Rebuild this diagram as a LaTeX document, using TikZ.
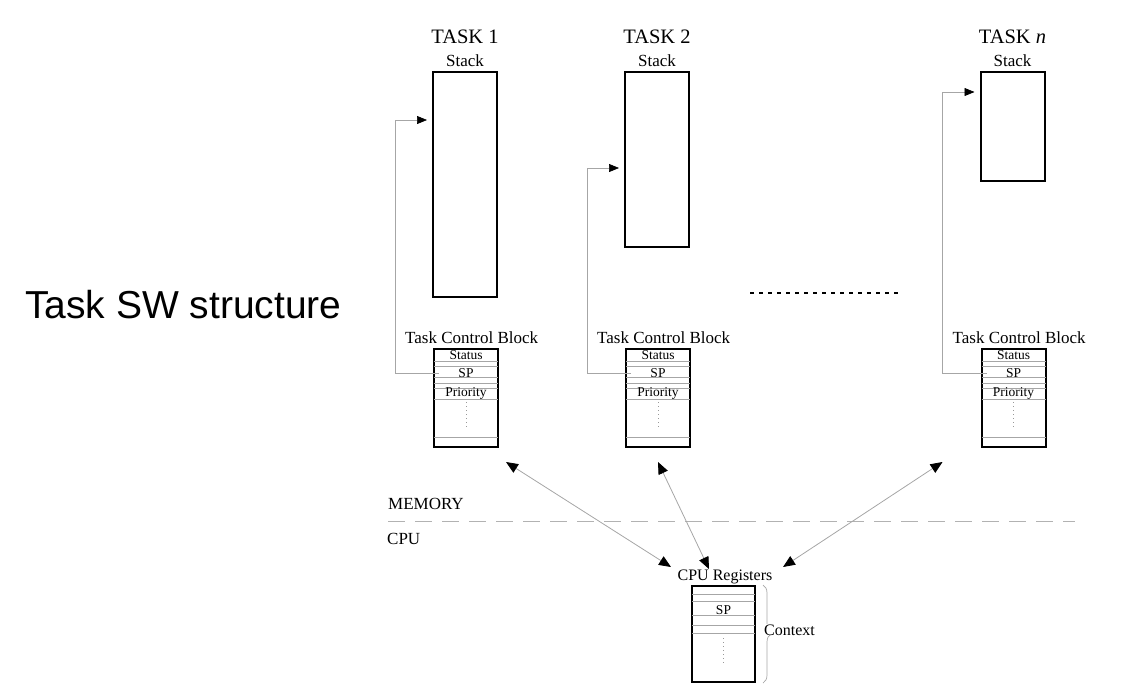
\documentclass[tikz,border=0pt]{standalone}
\usepackage{fontspec}
\setmainfont{Liberation Serif}
\newfontfamily\headfont{Liberation Sans}
\usetikzlibrary{positioning}
\usetikzlibrary{calc}
\usetikzlibrary{arrows.meta}
\usetikzlibrary{decorations.pathreplacing}

\tikzset{
  memblock/.style={draw, line width=2pt, minimum width=64pt, inner sep=0pt},
  rowline/.style={gray!70, line width=0.6pt},
  fielddots/.style={gray!80, line width=0.6pt, dash pattern=on 1pt off 3pt},
  fieldtext/.style={font=\fontsize{13.5}{14}\selectfont, inner sep=0pt},
  labeltext/.style={font=\fontsize{17}{18}\selectfont, inner sep=0pt, anchor=base},
  ptrline/.style={gray!70, line width=0.7pt, -{Triangle[length=10pt,width=8pt,color=black]}},
  linkline/.style={gray!70, line width=0.8pt,
    {Triangle[length=12pt,width=10pt,color=black]}-{Triangle[length=12pt,width=10pt,color=black]}},
}

\begin{document}
\begin{tikzpicture}[x=1pt,y=-1pt]
\useasboundingbox (0,0) rectangle (1136,689);

\node[anchor=base west, inner sep=0pt, font=\headfont\fontsize{39}{40}\selectfont] (title) at (25,318) {Task SW structure};

% one column per task: stack, control block, pointer
\foreach \t/\name/\cx/\h/\py in {1/TASK 1/465/225/49, 2/TASK 2/657/175/97, n/TASK \textit{n}/1012.5/109/21} {
  \node[labeltext, font=\fontsize{20.5}{21}\selectfont] (task\t) at (\cx,43) {\name};
  \node[labeltext] (stacklabel\t) at (\cx,66) {Stack};
  \node[memblock, minimum height=\h pt, anchor=north] (stack\t) at (\cx,71) {};

  \node[memblock, minimum height=98pt, anchor=north] (tcb\t) at (\cx+1,348) {};
  \node[labeltext, anchor=base west] (tcblabel\t) at ($(tcb\t.north west)+(-28,-5)$) {Task Control Block};
  \foreach \dy in {13,18,29,35,40,51,89}
    \draw[rowline] ($(tcb\t.north west)+(1,\dy)$) -- ($(tcb\t.north east)+(-1,\dy)$);
  \node[fieldtext] (status\t) at ($(tcb\t.north)+(0,7)$) {Status};
  \node[fieldtext] (sp\t) at ($(tcb\t.north)+(0,25)$) {SP};
  \node[fieldtext] (prio\t) at ($(tcb\t.north)+(0,45)$) {Priority};
  \draw[fielddots] ($(tcb\t.north)+(0,54)$) -- ($(tcb\t.north)+(0,82)$);

  \coordinate (spout\t) at ($(tcb\t.north west)+(6,25)$);
  \coordinate (tip\t) at ($(stack\t.north west)+(-5,\py)$);
  \draw[ptrline] (spout\t) -- ++(-44,0) |- (tip\t);
}

\draw[line width=1.5pt, dash pattern=on 4pt off 5pt] (750,293) -- (900,293);

% memory / cpu border
\node[labeltext, anchor=base west] (memlabel) at (388,509) {MEMORY};
\node[labeltext, anchor=base west] (cpulabel) at (387,544) {CPU};
\draw[gray!60, line width=0.8pt, dash pattern=on 17pt off 10pt] (388,521) -- (1075,521);

% cpu registers
\node[memblock, minimum width=63pt, minimum height=96pt, anchor=north] (cpu) at (723.5,585) {};
\node[labeltext, font=\fontsize{16}{17}\selectfont] (reglabel) at (725,580) {CPU Registers};
\foreach \dy in {9,16,30,40,48}
  \draw[rowline] ($(cpu.north west)+(1,\dy)$) -- ($(cpu.north east)+(-1,\dy)$);
\node[fieldtext] (cpusp) at ($(cpu.north)+(0,25)$) {SP};
\draw[fielddots] ($(cpu.north)+(0,53)$) -- ($(cpu.north)+(0,81)$);
\draw[gray!70, line width=0.7pt, decorate, decoration={brace, amplitude=8pt}]
  ($(cpu.north east)+(7,0)$) -- ($(cpu.south east)+(7,0)$);
\node[labeltext, anchor=base west, fill=white, font=\fontsize{16}{17}\selectfont] (context) at (764,635) {Context};

% context switch links
\coordinate (m1) at ($(tcb1.south east)+(7,14)$);
\coordinate (m2) at ($(tcb2.south)+(0,14)$);
\coordinate (mn) at ($(tcbn.south west)+(-38,14)$);
\coordinate (c1) at ($(cpu.north west)+(-20,-18)$);
\coordinate (c2) at ($(cpu.north west)+(18,-16)$);
\coordinate (cn) at ($(cpu.north east)+(27,-18)$);
\draw[linkline] (m1) -- (c1);
\draw[linkline] (m2) -- (c2);
\draw[linkline] (mn) -- (cn);
\end{tikzpicture}
\end{document}
